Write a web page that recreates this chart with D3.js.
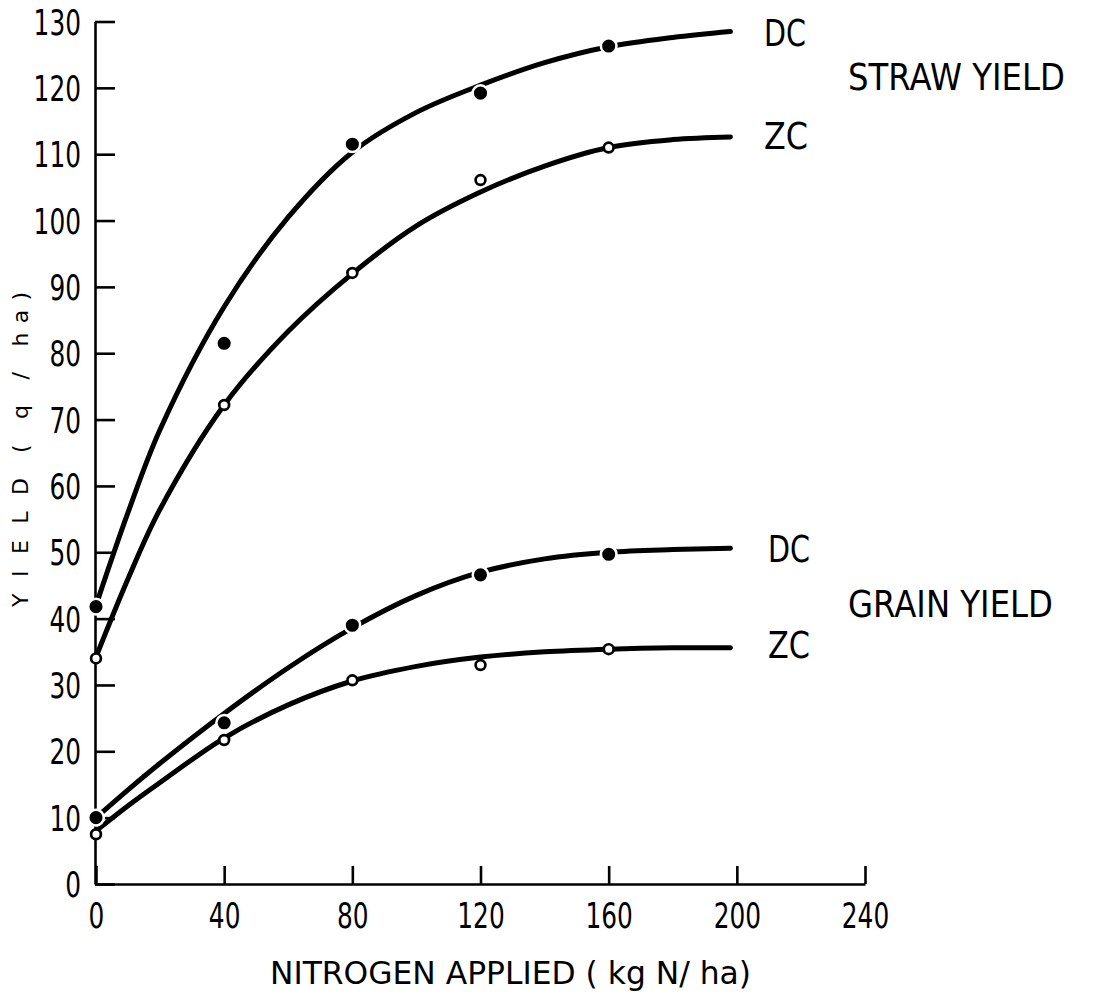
<!DOCTYPE html>
<html>
<head>
<meta charset="utf-8">
<script src="https://cdn.jsdelivr.net/npm/d3@7"></script>
<style>
  body { margin: 0; background: #fff; }
  svg text { font-family: "DejaVu Sans", sans-serif; fill: #000; }
</style>
</head>
<body>
<div id="app"></div>
<script>
// measured points (kg N/ha vs yield q/ha)
const nApplied = [0, 40, 80, 120, 160];
const strawDC = [41.8, 81.5, 111.5, 119.2, 126.3];
const strawZC = [34, 72.2, 92.1, 106.1, 111];
const grainDC = [10, 24.3, 39, 46.6, 49.7];
const grainZC = [7.5, 21.7, 30.7, 33, 35.4];

// fitted curves
const fitN = [0, 10, 20, 40, 60, 80, 100, 120, 140, 160, 180, 198];
const strawDCFit = [42, 56, 68.5, 87, 100.5, 110.3, 116.3, 120.4, 123.8, 126.2, 127.6, 128.5];
const strawZCFit = [34.2, 46, 56.5, 72.2, 83.3, 92, 99.2, 104.3, 108.2, 111, 112.2, 112.6];
const grainDCFit = [10, 14.2, 18.2, 25.7, 32.6, 38.6, 43.5, 47, 49, 50, 50.4, 50.6];
const grainZCFit = [8, 11.8, 15.3, 22, 27, 30.6, 32.8, 34.2, 35, 35.4, 35.6, 35.6];

const xTicks = [0, 40, 80, 120, 160, 200, 240];
const yTicks = [0, 10, 20, 30, 40, 50, 60, 70, 80, 90, 100, 110, 120, 130];

const width = 1100, height = 995;

const x = d3.scaleLinear().domain([0, 240]).range([96, 865]);
const y = d3.scaleLinear().domain([0, 130]).range([884, 21.5]);

const svg = d3.select("#app").append("svg")
    .attr("width", width)
    .attr("height", height);

// axes
const yAxis = svg.append("g")
    .attr("transform", `translate(${x(0) - 1},0)`)
    .call(d3.axisLeft(y).tickValues(yTicks).tickSizeInner(-20).tickSizeOuter(0).tickPadding(14));

const xAxis = svg.append("g")
    .attr("transform", `translate(0,${y(0)})`)
    .call(d3.axisBottom(x).tickValues(xTicks).tickSizeInner(-18).tickSizeOuter(0).tickPadding(19));

[yAxis, xAxis].forEach(ax => {
    ax.select(".domain").attr("stroke-width", 2.6);
    ax.selectAll(".tick line").attr("stroke-width", 2.6);
    ax.selectAll(".tick text")
        .attr("font-size", 35)
        .attr("font-family", "DejaVu Sans")
        .attr("lengthAdjust", "spacingAndGlyphs")
        .attr("textLength", d => String(d).length * 15.8);
});
yAxis.selectAll(".tick text").attr("dy", "0.36em");

// curves
const line = d3.line()
    .x((d, i) => x(fitN[i]))
    .y(d => y(d))
    .curve(d3.curveCatmullRom.alpha(0.5));

[strawDCFit, strawZCFit, grainDCFit, grainZCFit].forEach(s => {
    svg.append("path")
        .attr("d", line(s))
        .attr("fill", "none")
        .attr("stroke", "#000")
        .attr("stroke-width", 5)
        .attr("stroke-linecap", "round");
});

// markers
const drawPoints = (vals, filled) => {
    svg.append("g").selectAll("circle")
        .data(vals)
        .join("circle")
        .attr("cx", (d, i) => x(nApplied[i]))
        .attr("cy", d => y(d))
        .attr("r", filled ? 7.8 : 4.9)
        .attr("fill", filled ? "#000" : "#fff")
        .attr("stroke", filled ? "#fff" : "#000")
        .attr("stroke-width", filled ? 2.5 : 2.7);
};
drawPoints(strawDC, true);
drawPoints(strawZC, false);
drawPoints(grainDC, true);
drawPoints(grainZC, false);

// right-hand labels
const endY = s => y(s[s.length - 1]);
const label = (txt, lx, cy, len, size, cap) => {
    svg.append("text")
        .attr("x", lx)
        .attr("y", cy + cap / 2)
        .attr("font-size", size)
        .attr("lengthAdjust", "spacingAndGlyphs")
        .attr("textLength", len)
        .text(txt);
};
label("DC", 764, endY(strawDCFit) + 1, 42, 37, 27);
label("ZC", 764, endY(strawZCFit) - 1, 44, 37, 27);
label("STRAW YIELD", 848, 76, 217, 37, 27);
label("DC", 768, endY(grainDCFit), 42, 37, 27);
label("ZC", 768, endY(grainZCFit) - 2, 42, 37, 25);
label("GRAIN YIELD", 848, 603, 205, 37, 27);

// axis titles
svg.append("text")
    .attr("x", 270)
    .attr("y", 984)
    .attr("font-size", 32)
    .attr("lengthAdjust", "spacingAndGlyphs")
    .attr("textLength", 481)
    .text("NITROGEN APPLIED ( kg N/ ha)");

const yTitle = svg.append("g").attr("transform", "translate(28,0) rotate(-90)");
yTitle.append("text")
    .attr("x", -607)
    .attr("font-size", 22)
    .attr("lengthAdjust", "spacing")
    .attr("textLength", 129)
    .text("YIELD");
yTitle.append("text")
    .attr("x", -453)
    .attr("font-size", 22)
    .attr("lengthAdjust", "spacing")
    .attr("textLength", 161)
    .text("( q / ha)");
</script>
</body>
</html>
